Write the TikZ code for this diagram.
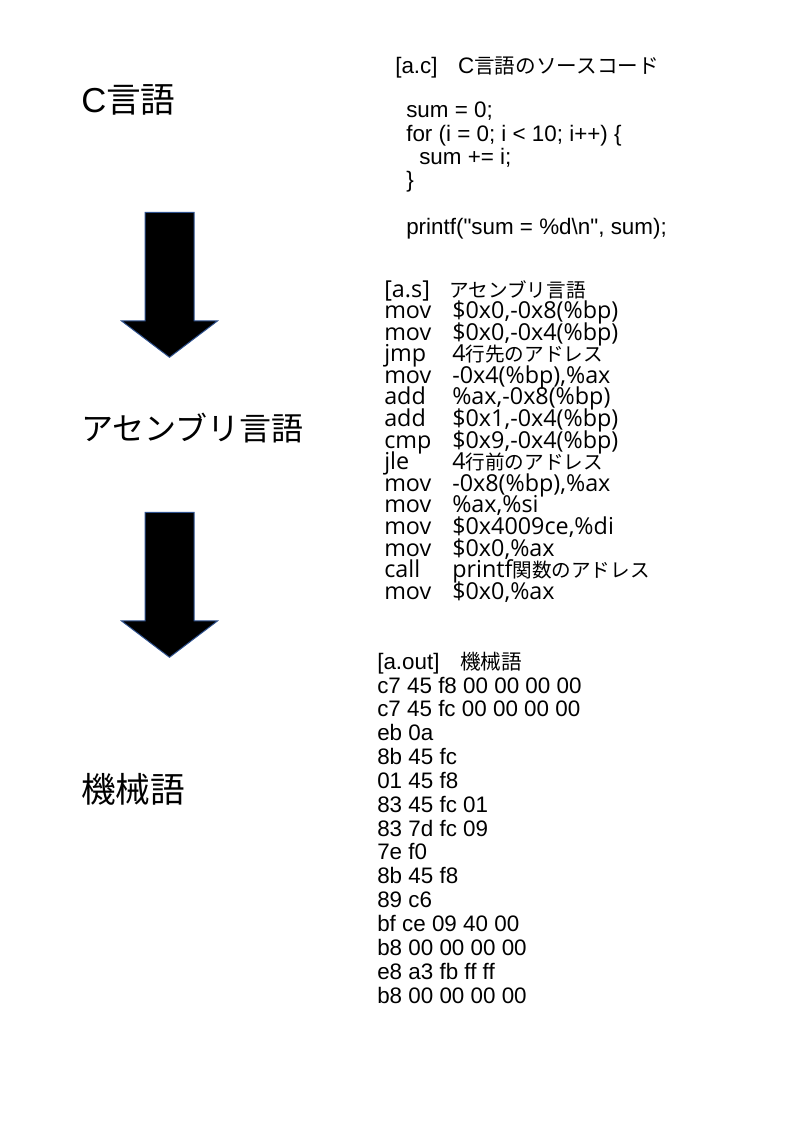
\documentclass[tikz,border=0pt]{standalone}
\usepackage{fontspec}
\setmainfont{Liberation Sans}
\newfontfamily\codefont{Liberation Sans}
\newfontfamily\jp[Scale=0.92]{Noto Sans CJK JP}
\newfontfamily\jpa[Scale=0.84]{Noto Sans CJK JP}
\newfontfamily\jpbig{Noto Sans CJK JP}
\newfontfamily\asmfont{Open Sans}
\usepackage{tikz}
\usetikzlibrary{shapes.arrows}
\definecolor{arrowline}{RGB}{47,82,143}

\begin{document}
\begin{tikzpicture}[
  x=0.75pt, y=-0.75pt,
  langname/.style={anchor=base west, inner sep=0pt, font=\fontsize{24}{28}\selectfont},
  srcline/.style={anchor=base west, inner sep=0pt, font=\fontsize{16.8}{20}\codefont},
  asmline/.style={anchor=base west, inner sep=0pt, font=\fontsize{17.5}{20}\asmfont},
  blockarrow/.style={single arrow, draw=arrowline, line width=0.75pt, fill=black,
                     rotate=-90, inner xsep=0pt, inner ysep=18pt, minimum height=108.75pt,
                     minimum width=71.25pt, single arrow head extend=17.6pt,
                     single arrow tip angle=105.7}
]
\useasboundingbox (0,0) rectangle (794,1123);

% Language names
\node[langname, font=\fontsize{26}{30}\selectfont] (clang) at (81,113) {C{\jpbig 言語}};
\node[langname] (asmlang) at (81,440) {\jpbig アセンブリ言語};
\node[langname, font=\fontsize{26}{30}\selectfont] (machlang) at (81,802) {\jpbig 機械語};

% Block arrows
\node[blockarrow] (arrowA) at (169.5,275.5) {};
\node[blockarrow] (arrowB) at (169.5,575.5) {};

% a.c
\node[srcline] (chead) at (395,74) {[a.c]{\jp 　}C{\jp 言語のソースコード}};
\node[srcline] (c1) at (406,118) {sum = 0;};
\node[srcline] (c2) at (406,141.5) {for (i = 0; i < 10; i++) \{};
\node[srcline] (c3) at (419,165) {sum += i;};
\node[srcline] (c4) at (406,188) {\}};
\node[srcline] (c5) at (406,234) {printf("sum = \%d\textbackslash n", sum);};

% a.s
\node[asmline] (ahead) at (384,297) {[a.s]{\jpa 　アセンブリ言語}};
\foreach \m/\o [count=\i] in {
    mov/{\$0x0,-0x8(\%bp)}, mov/{\$0x0,-0x4(\%bp)}, jmp/{4{\jpa 行先のアドレス}},
    mov/{-0x4(\%bp),\%ax}, add/{\%ax,-0x8(\%bp)}, add/{\$0x1,-0x4(\%bp)},
    cmp/{\$0x9,-0x4(\%bp)}, jle/{4{\jpa 行前のアドレス}}, mov/{-0x8(\%bp),\%ax},
    mov/{\%ax,\%si}, mov/{\$0x4009ce,\%di}, mov/{\$0x0,\%ax},
    call/{printf{\jpa 関数のアドレス}}, mov/{\$0x0,\%ax}} {
  \node[asmline] (asm\i) at (384,{318.5+21.6*(\i-1)}) {\m};
  \node[asmline] (opnd\i) at (452,{318.5+21.6*(\i-1)}) {\o};
}

% a.out
\node[srcline] (mhead) at (377,669) {[a.out]{\jp 　機械語}};
\foreach \h [count=\i] in {c7 45 f8 00 00 00 00, c7 45 fc 00 00 00 00, eb 0a, 8b 45 fc,
    01 45 f8, 83 45 fc 01, 83 7d fc 09, 7e f0, 8b 45 f8, 89 c6, bf ce 09 40 00,
    b8 00 00 00 00, e8 a3 fb ff ff, b8 00 00 00 00}
  \node[srcline] (hex\i) at (377,{693+23.85*(\i-1)}) {\h};

\end{tikzpicture}
\end{document}
